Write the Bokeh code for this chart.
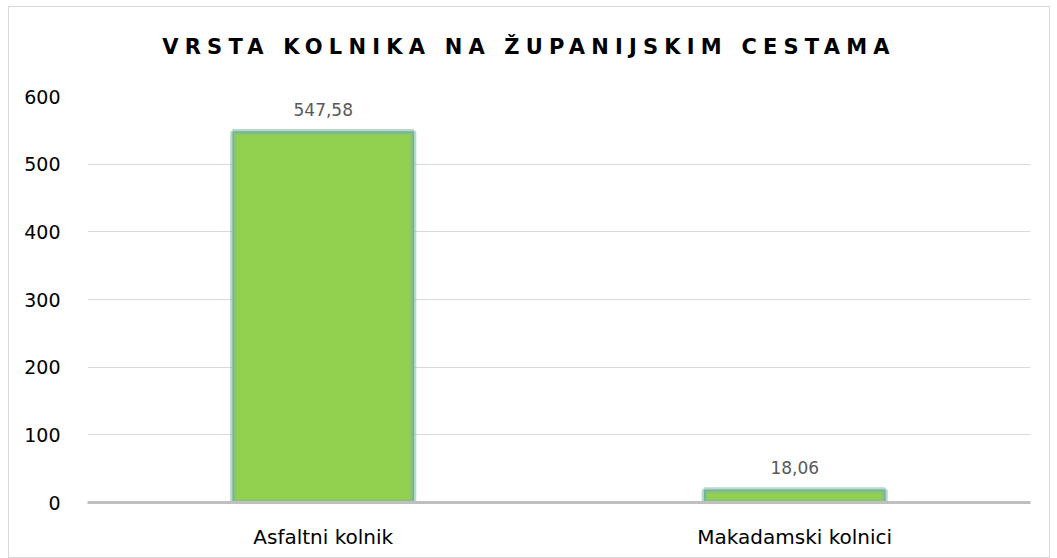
from bokeh.plotting import figure
from bokeh.models import ColumnDataSource, Range1d, FactorRange, LabelSet, Div
from bokeh.core.properties import value
from bokeh.layouts import column
from bokeh.embed import file_html
from bokeh.resources import INLINE

title_text = "VRSTA KOLNIKA NA ŽUPANIJSKIM CESTAMA"
categories = ["Asfaltni kolnik", "Makadamski kolnici"]
values = [547.58, 18.06]
value_labels = ["547,58", "18,06"]
y_ticks = [0, 100, 200, 300, 400, 500, 600]

src = ColumnDataSource(dict(cat=categories, val=values, lab=value_labels))

FONT = "DejaVu Sans"

title = Div(
    text=title_text, width=1040, height=78, margin=(0, 0, 0, 0),
    styles={"font-family": "'DejaVu Sans', sans-serif", "font-weight": "bold",
            "font-size": "21px", "letter-spacing": "6.2px", "text-align": "center",
            "line-height": "80px", "color": "#000000", "width": "1040px",
            "background": "white", "padding": "0", "margin": "0"},
)

p = figure(
    x_range=FactorRange(*categories, range_padding=0),
    y_range=Range1d(0, 600),
    width=1040, height=472, margin=(0, 0, 0, 0),
    output_backend="svg", toolbar_location=None,
    min_border_left=78, min_border_right=19,
    min_border_top=11, min_border_bottom=55,
)

p.outline_line_color = None
p.background_fill_color = "white"
p.border_fill_color = "white"

# soft teal edge then green fill
p.vbar(x="cat", top="val", width=0.382, source=src,
       fill_color="#92D050", line_color="#7DBA9A", line_width=6, line_alpha=0.55)
p.vbar(x="cat", top="val", width=0.382, source=src,
       fill_alpha=0.0, line_color="#72B09E", line_width=1.5)

labels = LabelSet(x="cat", y="val", text="lab", source=src,
                  text_align="center", text_baseline="bottom", y_offset=16,
                  text_font=value(FONT), text_font_size="17px", text_color="#595959")
p.add_layout(labels)

p.yaxis.ticker = y_ticks
p.yaxis.axis_line_color = None
p.yaxis.major_tick_line_color = None
p.yaxis.minor_tick_line_color = None
p.yaxis.major_label_text_font = FONT
p.yaxis.major_label_text_font_size = "19px"
p.yaxis.major_label_text_color = "#000000"
p.yaxis.major_label_standoff = 21

p.xaxis.axis_line_color = "#BFBFBF"
p.xaxis.axis_line_width = 3
p.xaxis.major_tick_line_color = None
p.xaxis.minor_tick_line_color = None
p.xaxis.major_label_text_font = FONT
p.xaxis.major_label_text_font_size = "20px"
p.xaxis.major_label_text_color = "#000000"
p.xaxis.major_label_standoff = 16

p.xgrid.grid_line_color = None
p.ygrid.grid_line_color = "#D9D9D9"
p.ygrid.grid_line_width = 1

layout = column(title, p, spacing=0,
                styles={"border": "1px solid #D9D9D9", "margin-left": "8px",
                        "margin-top": "6px", "background": "white"})

open("out.html", "w").write(file_html(layout, INLINE))
